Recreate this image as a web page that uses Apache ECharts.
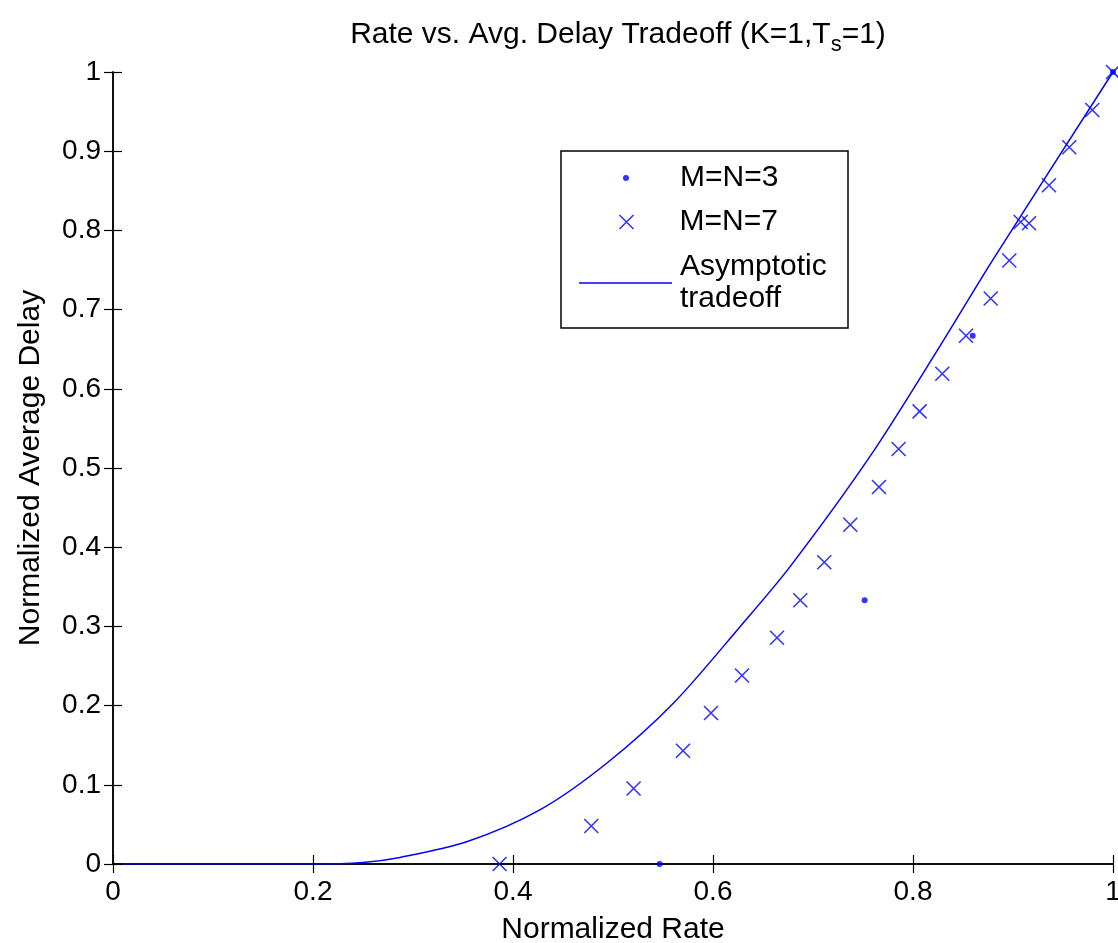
<!DOCTYPE html>
<html>
<head>
<meta charset="utf-8">
<script src="https://cdn.jsdelivr.net/npm/echarts@6/dist/echarts.min.js"></script>
<style>
  html, body { margin: 0; padding: 0; background: #fff; overflow: hidden; }
  #chart { width: 1118px; height: 943px; }
</style>
</head>
<body>
<div id="chart"></div>
<script>
// ---- data ----
const seriesNames = ['M=N=3', 'M=N=7', 'Asymptotic\ntradeoff'];

const m3Rate  = [0.5466, 0.7516, 0.8597, 1.0];
const m3Delay = [0.0, 0.333, 0.667, 1.0];

const m7Rate  = [0.3866, 0.4783, 0.5206, 0.570, 0.598, 0.629, 0.664, 0.6873, 0.7113, 0.7373,
                 0.766, 0.7856, 0.8066, 0.8293, 0.853, 0.8777, 0.8963, 0.9077, 0.916, 0.936,
                 0.9563, 0.9793, 1.0];
const m7Delay = [0.0, 0.048, 0.0953, 0.143, 0.1906, 0.238, 0.2857, 0.333, 0.381, 0.4284,
                 0.476, 0.524, 0.5715, 0.619, 0.667, 0.714, 0.762, 0.8106, 0.809, 0.857,
                 0.905, 0.952, 1.0];

const curveRate  = [0.01, 0.1, 0.2, 0.25, 0.287, 0.3537, 0.4273,
                    0.494, 0.5606, 0.6273, 0.6773, 0.757, 0.8265, 0.880, 1.0];
const curveDelay = [0, 0, 0, 0.002, 0.0083, 0.028, 0.0686,
                    0.1275, 0.2033, 0.300, 0.3758, 0.5146, 0.653, 0.763, 1.0];

const xTickLabels = ['0', '0.2', '0.4', '0.6', '0.8', '1'];
const yTickLabels = ['0', '0.1', '0.2', '0.3', '0.4', '0.5', '0.6', '0.7', '0.8', '0.9', '1'];

// ---- build ----
const zip = (a, b) => a.map((v, i) => [v, b[i]]);
const BLUE = '#0000ff';
const FONT = 'Liberation Sans, Arial, Helvetica, sans-serif';
const crossPath = 'path://M0,0L10,10M10,0L0,10';

function fmt(labels, step) {
  return v => {
    const i = Math.round(v / step);
    return labels[i] !== undefined ? labels[i] : '';
  };
}

const axisCommon = {
  min: 0, max: 1,
  axisLine: { show: true, lineStyle: { color: '#000', width: 1.5 } },
  axisTick: { show: true, inside: true, length: 9, lineStyle: { color: '#000', width: 1.2 } },
  splitLine: { show: false }
};

const chart = echarts.init(document.getElementById('chart'), null, { renderer: 'canvas' });
chart.setOption({
  backgroundColor: '#fff',
  animation: false,
  title: {
    text: 'Rate vs. Avg. Delay Tradeoff (K=1,T{s|s}=1)',
    left: 613, top: 9, textAlign: 'center',
    textStyle: {
      fontFamily: FONT, fontSize: 30, fontWeight: 'normal', color: '#000',
      rich: { s: { fontFamily: FONT, fontSize: 22, color: '#000', padding: [20, 0, 0, 0] } }
    }
  },
  grid: { left: 113, right: 5, top: 72, bottom: 79, containLabel: false, outerBoundsMode: 'none' },
  xAxis: [
    Object.assign({}, axisCommon, {
      type: 'value', position: 'bottom', interval: 0.2,
      name: 'Normalized Rate', nameLocation: 'middle', nameGap: 51,
      nameTextStyle: { fontFamily: FONT, fontSize: 30, color: '#000' },
      axisLabel: { show: true, margin: 14, color: '#000', fontFamily: FONT, fontSize: 28,
                   formatter: fmt(xTickLabels, 0.2), showMinLabel: true, showMaxLabel: true }
    }),
    Object.assign({}, axisCommon, {
      type: 'value', position: 'top', interval: 0.2, axisLabel: { show: false }
    })
  ],
  yAxis: [
    Object.assign({}, axisCommon, {
      type: 'value', position: 'left', interval: 0.1,
      name: 'Normalized Average Delay', nameLocation: 'middle', nameGap: 67, nameRotate: 90,
      nameTextStyle: { fontFamily: FONT, fontSize: 30, color: '#000' },
      axisLabel: { show: true, margin: 12, color: '#000', fontFamily: FONT, fontSize: 28,
                   formatter: fmt(yTickLabels, 0.1), showMinLabel: true, showMaxLabel: true }
    }),
    Object.assign({}, axisCommon, {
      type: 'value', position: 'right', interval: 0.1, axisLabel: { show: false }
    })
  ],
  graphic: [{
    type: 'rect', z: 3,
    shape: { x: 561, y: 151, width: 287, height: 177 },
    style: { fill: '#fff', stroke: '#000', lineWidth: 1.5 }
  }],
  legend: [
    {
      data: [seriesNames[0]], left: 623, top: 163, padding: 0, itemWidth: 6, itemHeight: 6,
      selectedMode: false, z: 5, icon: 'circle', align: 'left', orient: 'vertical',
      itemStyle: { color: BLUE, borderWidth: 0 },
      textStyle: { fontFamily: FONT, fontSize: 30, color: '#000', padding: [0, 0, 0, 46] }
    },
    {
      data: [seriesNames[1]], left: 617, top: 207, padding: 0, itemWidth: 14, itemHeight: 14,
      selectedMode: false, z: 5, icon: crossPath, align: 'left', orient: 'vertical',
      itemStyle: { color: 'none', borderColor: BLUE, borderWidth: 1.6 },
      textStyle: { fontFamily: FONT, fontSize: 30, color: '#000', padding: [0, 0, 0, 41] }
    },
    {
      data: [seriesNames[2]], left: 579, top: 251, padding: 0, itemWidth: 93, itemHeight: 1.5,
      selectedMode: false, z: 5, icon: 'rect', align: 'left', orient: 'vertical',
      itemStyle: { color: BLUE, borderWidth: 0 },
      textStyle: { fontFamily: FONT, fontSize: 30, lineHeight: 32, color: '#000', padding: [0, 0, 0, 3] }
    }
  ],
  series: [
    {
      name: seriesNames[0], type: 'scatter', xAxisIndex: 0, yAxisIndex: 0,
      symbol: 'circle', symbolSize: 6, clip: false,
      itemStyle: { color: BLUE },
      data: zip(m3Rate, m3Delay), z: 4
    },
    {
      name: seriesNames[1], type: 'scatter', xAxisIndex: 0, yAxisIndex: 0,
      symbol: crossPath, symbolSize: 14, clip: false,
      itemStyle: { color: 'none', borderColor: BLUE, borderWidth: 1.6 },
      data: zip(m7Rate, m7Delay), z: 4
    },
    {
      name: seriesNames[2], type: 'line', xAxisIndex: 0, yAxisIndex: 0,
      showSymbol: false, symbol: 'none', smooth: 0.3,
      lineStyle: { color: BLUE, width: 1.5 }, itemStyle: { color: BLUE },
      data: zip(curveRate, curveDelay), z: 3
    }
  ]
});
</script>
</body>
</html>
